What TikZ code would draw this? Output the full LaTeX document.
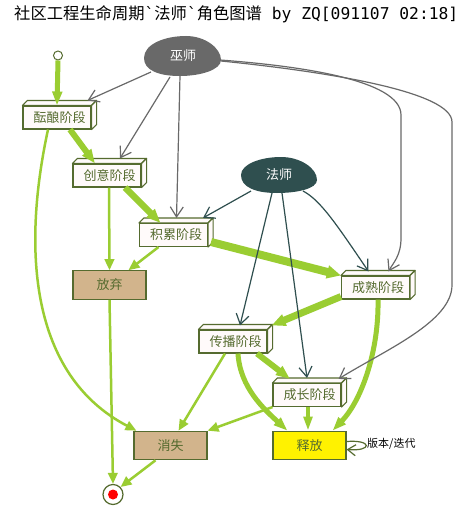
\documentclass[tikz,border=0pt]{standalone}
\usepackage{fontspec}
\setmainfont{DejaVu Sans}
\setmonofont{DejaVu Sans Mono}
\newfontfamily\cjk{Noto Sans CJK SC}
\usetikzlibrary{arrows.meta,shapes.geometric,backgrounds,calc}
\definecolor{ygreen}{HTML}{9ACD32}
\definecolor{olivedk}{HTML}{556B2F}
\definecolor{snowc}{HTML}{FFFAFA}
\definecolor{tanc}{HTML}{D2B48C}
\definecolor{dimgrayc}{HTML}{696969}
\definecolor{slatec}{HTML}{2F4F4F}
\tikzset{
  stage/.style={draw=olivedk, fill=snowc, line width=1.1pt, minimum width=68pt, minimum height=23pt,
    inner sep=0pt, text=olivedk, font=\cjk\fontsize{13}{13}\selectfont,
    execute at begin node={\kern5pt}},
  face/.style={draw=olivedk, fill=snowc, line width=1.1pt, line join=round},
  flat/.style={draw=olivedk, line width=1.1pt, minimum width=73pt, minimum height=28.5pt,
    inner sep=0pt, text=olivedk, font=\cjk\fontsize{13}{13}\selectfont},
  actor/.style={ellipse, minimum width=77pt, minimum height=40pt, inner sep=0pt, text=white,
    font=\cjk\fontsize{13}{13}\selectfont},
  startc/.style={circle, draw=olivedk, fill=white, line width=1pt, minimum size=9pt, inner sep=0pt},
  finalc/.style={circle, draw=olivedk, fill=white, line width=1.2pt, minimum size=20pt, inner sep=0pt},
  gedge/.style={draw=ygreen, line width=#1, -{Triangle[length=11pt,width=9.5pt]}},
  gbig/.style={draw=ygreen, line width=#1, -{Triangle[length=14pt,width=4.5pt 1]}},
  grayedge/.style={draw=dimgrayc, line width=1.2pt, -{Straight Barb[length=10pt,width=13pt]}},
  slateedge/.style={draw=slatec, line width=1.2pt, -{Straight Barb[length=10pt,width=13pt]}},
  loopc/.style={draw=olivedk, line width=1.2pt, -{Straight Barb[length=8pt,width=11pt]}},
}
\begin{document}
\begin{tikzpicture}[x=1pt,y=-1pt]
\useasboundingbox (0,0) rectangle (475,511);
\begin{pgfonlayer}{background}
\fill[white] (0,0) rectangle (475,511);
\end{pgfonlayer}

% title
\node[anchor=base west, inner sep=0pt, font=\ttfamily\fontsize{16.3}{16.3}\selectfont] (title) at (14,20)
  {{\cjk 社区工程生命周期}`{\cjk 法师}`{\cjk 角色图谱} by ZQ[091107 02:18]};

% actors
\node[actor] (wushi) at (183,56) {巫师};
\node[actor] (fashi) at (279,175) {法师};
\begin{pgfonlayer}{background}
\fill[dimgrayc, shift={(wushi.center)}] (-39,2) .. controls (-39,-12) and (-18,-20) .. (3,-20)
  .. controls (22,-20) and (38,-8) .. (38,4) .. controls (38,14) and (17,20) .. (-3,20)
  .. controls (-25,20) and (-39,14) .. (-39,2) -- cycle;
\fill[slatec, shift={(fashi.center)}] (-38,0) .. controls (-38,-11) and (-18,-18) .. (2,-18)
  .. controls (21,-18) and (38,-7) .. (38,5) .. controls (38,14) and (17,18) .. (-2,18)
  .. controls (-24,18) and (-38,12) .. (-38,0) -- cycle;
\end{pgfonlayer}

% stages
\node[stage] (yun) at (57,117.5) {酝酿阶段};
\node[stage] (chuang) at (107,175.5) {创意阶段};
\node[stage] (jilei) at (173.5,235) {积累阶段};
\node[stage] (chengshu) at (375.5,287.5) {成熟阶段};
\node[stage] (chuanbo) at (233,341.5) {传播阶段};
\node[stage] (chengzhang) at (307,395) {成长阶段};
\foreach \n in {yun,chuang,jilei,chengshu,chuanbo,chengzhang}{
  \filldraw[face] (\n.north west) -- ++(5,-5) -- ($(\n.north east)+(5,-5)$) -- (\n.north east) -- cycle;
  \filldraw[face] (\n.north east) -- ++(5,-5) -- ($(\n.south east)+(5,-5)$) -- (\n.south east) -- cycle;
}
\node[flat, fill=tanc] (fangqi) at (109.5,285) {放弃};
\node[flat, fill=tanc] (xiaoshi) at (170.5,445.5) {消失};
\node[flat, fill=yellow] (shifang) at (309.5,445.5) {释放};

\node[startc] (start) at (58,55.5) {};
\node[finalc] (final) at (113,494.5) {};
\fill[red] (final.center) circle (5);

% green flow
\draw[gbig=5pt] (start.south) -- (yun.north);
\draw[gbig=6pt] ([shift={(13,0)}]yun.south) -- ([shift={(-12,0)}]chuang.north);
\draw[gedge=2.5pt] ([shift={(-9,0)}]yun.south) .. controls (22,250) and (30,375) .. ([shift={(3,0)}]xiaoshi.north west);
\draw[gbig=6.5pt] ([shift={(18,0)}]chuang.south) -- ([shift={(-13,0)}]jilei.north);
\draw[gedge=2.5pt] ([shift={(2,0)}]chuang.south) -- (fangqi.north);
\draw[gedge=2.5pt] ([shift={(-15,0)}]jilei.south) -- ([shift={(19,0)}]fangqi.north);
\draw[gbig=8pt] ([shift={(3,7)}]jilei.east) -- (chengshu.north west);
\draw[gedge=2.5pt] (fangqi.south) -- (final.north);
\draw[gbig=7pt] ([shift={(0,-3)}]chengshu.south west) -- ([shift={(4,-4)}]chuanbo.north east);
\draw[gbig=5pt] ([shift={(2.5,0)}]chengshu.south) .. controls (379,350) and (362,400) .. ([shift={(23,0)}]shifang.north);
\draw[gedge=2.5pt] ([shift={(-8,0)}]chuanbo.south) -- ([shift={(8,0)}]xiaoshi.north);
\draw[gbig=6pt] ([shift={(24,0)}]chuanbo.south) -- ([shift={(-17,-4)}]chengzhang.north);
\draw[gbig=5pt] ([shift={(5,0)}]chuanbo.south) .. controls (240,388) and (265,410) .. ([shift={(-22,0)}]shifang.north);
\draw[gedge=2.5pt] (chengzhang.south west) -- (xiaoshi.north east);
\draw[gbig=4pt] ([shift={(1,0)}]chengzhang.south) -- ([shift={(-1.5,0)}]shifang.north);
\draw[gedge=2.5pt] ([shift={(-15,0)}]xiaoshi.south) -- (final.north east);

% loop
\draw[loopc] ([shift={(0,-4)}]shifang.east) .. controls +(26,-2) and +(26,2) .. ([shift={(0,4)}]shifang.east);
\node[anchor=west, inner sep=0pt, font=\cjk\fontsize{11}{11}\selectfont] (looplbl) at (367,444) {版本/迭代};

% wizard edges
\draw[grayedge] ([shift={(-32,16)}]wushi.center) -- ([shift={(-4,-5)}]yun.north east);
\draw[grayedge] ([shift={(-13,21)}]wushi.center) -- ([shift={(13,-5)}]chuang.north);
\draw[grayedge] ([shift={(-3,20)}]wushi.center) -- ([shift={(3,-5)}]jilei.north);
\draw[grayedge] ([shift={(37,4)}]wushi.center) .. controls (300,66) and (401,80) .. (401,115)
  -- (401,238) .. controls (401,256) and (393,263) .. ([shift={(13,-4)}]chengshu.north);
\draw[grayedge] ([shift={(38,5)}]wushi.center) .. controls (330,72) and (452,92) .. (452,122)
  -- (452,285) .. controls (452,322) and (385,350) .. ([shift={(-3,-4)}]chengzhang.north east);

% mage edges
\draw[slateedge] ([shift={(-28,16)}]fashi.center) -- ([shift={(-5,-5)}]jilei.north east);
\draw[slateedge] ([shift={(-7,18)}]fashi.center) -- ([shift={(7,-4)}]chuanbo.north);
\draw[slateedge] ([shift={(3,18)}]fashi.center) -- ([shift={(0,-5)}]chengzhang.north);
\draw[slateedge] ([shift={(24,16)}]fashi.center) .. controls (320,200) and (335,222) .. ([shift={(-7,-4)}]chengshu.north);
\end{tikzpicture}
\end{document}
